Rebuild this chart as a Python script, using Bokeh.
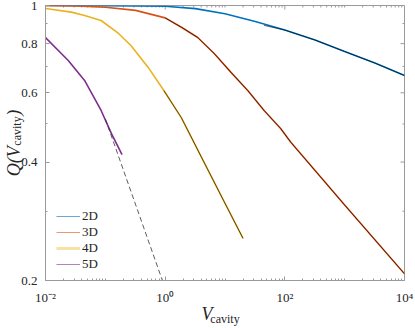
import numpy as np
from bokeh.plotting import figure
from bokeh.models import Range1d, FixedTicker, Legend, LegendItem, LogAxis
from bokeh.embed import file_html
from bokeh.resources import INLINE

# ---------------- data ----------------
names = ["2D", "3D", "4D", "5D"]
colors = ["#0072BD", "#D95319", "#EDB120", "#7E2F8E"]

v_2d = [0.01, 0.1, 1, 3.2, 10, 32, 100, 320, 1000, 3200, 10000]
q_2d = [1.0, 0.999, 0.996, 0.982, 0.953, 0.911, 0.866, 0.817, 0.764, 0.714, 0.664]

v_3d = [0.01, 0.032, 0.1, 0.32, 1, 1.9, 3.5, 6.6, 12.6, 24, 45, 85, 126, 1000, 10000]
q_3d = [1.0, 0.997, 0.99, 0.972, 0.93, 0.879, 0.829, 0.755, 0.676, 0.608, 0.541, 0.487, 0.449, 0.311, 0.208]

v_4d = [0.01, 0.027, 0.045, 0.085, 0.166, 0.27, 0.52, 0.95, 1.86, 4.3, 9.5, 20]
q_4d = [0.983, 0.962, 0.943, 0.916, 0.849, 0.79, 0.696, 0.608, 0.519, 0.404, 0.319, 0.256]

v_5d = [0.01, 0.024, 0.045, 0.085, 0.126, 0.19]
q_5d = [0.829, 0.725, 0.645, 0.541, 0.473, 0.418]

# black fitted curves
fit_v_2d = [45, 100, 320, 1000, 3200, 10000]
fit_q_2d = [0.89, 0.866, 0.817, 0.764, 0.714, 0.664]
fit_v_3d = [1, 1.9, 3.5, 6.6, 12.6, 24, 45, 85, 126, 1000, 10000]
fit_q_3d = [0.93, 0.879, 0.829, 0.755, 0.676, 0.608, 0.541, 0.487, 0.449, 0.311, 0.208]
fit_v_4d = [0.95, 1.86, 4.3, 9.5, 20]
fit_q_4d = [0.608, 0.519, 0.404, 0.319, 0.256]
fit_v_5d = [0.1, 1.0]
fit_q_5d = [0.515, 0.191]

x_major = [1e-2, 1.0, 1e2, 1e4]
x_labels = ["10\u207b\u00b2", "10\u2070", "10\u00b2", "10\u2074"]
y_major = [0.2, 0.4, 0.6, 0.8, 1.0]
y_labels = ["0.2", "0.4", "0.6", "0.8", "1"]
y_minor = [0.3, 0.5, 0.7, 0.9]

# ---------------- figure ----------------
FONT = "Liberation Serif"
TXT = "#262626"
AXC = "#9a9a9a"
X0, X1, Y0, Y1 = 1e-2, 1e4, 0.2, 1.0
FS = "\u2007"  # figure space, used to offset parts of the axis titles

p = figure(width=415, height=328, x_axis_type="log", y_axis_type="log",
           x_range=Range1d(X0, X1), y_range=Range1d(Y0, Y1),
           output_backend="svg", toolbar_location=None,
           min_border_left=44, min_border_right=11, min_border_top=5, min_border_bottom=48)
p.grid.visible = False
p.outline_line_color = AXC
p.outline_line_width = 1

x_minor = [k * 10.0 ** e for e in range(-2, 4) for k in range(1, 10)
           if k * 10.0 ** e not in x_major]
xt = FixedTicker(ticks=x_major, minor_ticks=x_minor)
yt = FixedTicker(ticks=y_major, minor_ticks=y_minor)


def style_axis(ax):
    ax.axis_line_color = AXC
    ax.axis_line_width = 1
    ax.major_tick_in = 4
    ax.major_tick_out = 0
    ax.minor_tick_in = 2
    ax.minor_tick_out = 0
    ax.major_tick_line_color = AXC
    ax.minor_tick_line_color = AXC
    ax.major_label_text_font = FONT
    ax.major_label_text_font_size = "13px"
    ax.major_label_text_color = TXT
    ax.axis_label_text_font = FONT
    ax.axis_label_text_color = TXT


xa = p.xaxis[0]
xa.ticker = xt
xa.major_label_overrides = dict(zip(x_major, x_labels))
xa.major_label_standoff = 9
style_axis(xa)
# "V" of the x title (padding shifts it left of the axis centre)
xa.axis_label = "V" + FS * 4
xa.axis_label_text_font_size = "18px"
xa.axis_label_text_font_style = "italic"
xa.axis_label_standoff = -4

ya = p.yaxis[0]
ya.ticker = yt
ya.major_label_overrides = dict(zip(y_major, y_labels))
ya.major_label_standoff = 8
style_axis(ya)
# subscript "cavity" of the y title
ya.axis_label = FS * 4 + "cavity"
ya.axis_label_text_font_size = "12px"
ya.axis_label_text_font_style = "normal"
ya.axis_label_standoff = -6

DEC = 275 / np.log10(5.0)


def dx(px):
    return 10 ** (-2 + (px - 44) / 60.0)


def dy(py):
    return 10 ** (-(py - 5) / DEC)


# mirrored ticks on the top and right edges of the box
p.segment(x0=x_major, y0=[Y1] * len(x_major), x1=x_major, y1=[dy(9)] * len(x_major),
          line_color=AXC, line_width=1)
p.segment(x0=x_minor, y0=[Y1] * len(x_minor), x1=x_minor, y1=[dy(7)] * len(x_minor),
          line_color=AXC, line_width=1)
p.segment(x0=[X1] * len(y_major), y0=y_major, x1=[dx(400)] * len(y_major), y1=y_major,
          line_color=AXC, line_width=1)
p.segment(x0=[X1] * len(y_minor), y0=y_minor, x1=[dx(402)] * len(y_minor), y1=y_minor,
          line_color=AXC, line_width=1)

# ---------------- lines ----------------
data_v = [v_2d, v_3d, v_4d, v_5d]
data_q = [q_2d, q_3d, q_4d, q_5d]
for v, q, c in zip(data_v, data_q, colors):
    p.line(v, q, line_color=c, line_width=1.6)

for v, q in [(fit_v_2d, fit_q_2d), (fit_v_3d, fit_q_3d), (fit_v_4d, fit_q_4d)]:
    p.line(v, q, line_color="black", line_width=0.6)
p.line(fit_v_5d, fit_q_5d, line_color="#333333", line_width=0.8, line_dash="5 3")

# ---------------- legend ----------------
leg_alpha = [0.6, 0.6, 0.4, 0.6]
leg_width = [1, 1, 3, 1]
items = []
for n, c, a, w in zip(names, colors, leg_alpha, leg_width):
    r = p.line([X0], [Y0], line_color=c, line_alpha=a, line_width=w)
    items.append(LegendItem(label=n, renderers=[r]))
legend = Legend(items=items, location=(11, 8), padding=0, margin=0, spacing=0,
                glyph_width=24, glyph_height=16, label_height=16, label_standoff=2,
                label_text_font=FONT, label_text_font_size="13px", label_text_color=TXT,
                border_line_alpha=0, background_fill_alpha=0)
p.add_layout(legend, "center")


# ---------------- remaining title parts: label-only axes ----------------
def title_axis(text, size, italic, standoff, bounds="auto"):
    return LogAxis(ticker=FixedTicker(ticks=[]), bounds=bounds, axis_label=text,
                   axis_label_text_font=FONT, axis_label_text_font_size=size,
                   axis_label_text_font_style="italic" if italic else "normal",
                   axis_label_text_color=TXT, axis_label_standoff=standoff,
                   axis_line_color=None, major_tick_line_color=None,
                   minor_tick_line_color=None, major_tick_out=0, minor_tick_out=0,
                   major_tick_in=0, minor_tick_in=0, major_label_standoff=0)


# subscript of the x title
p.add_layout(title_axis("cavity", "12px", False, -15, (dx(218), dx(247))), "below")
# main part of the y title, with a gap where the subscript sits
p.add_layout(title_axis("Q(V" + FS * 3 + "\u2009)", "18px", True, -16), "left")

open("out.html", "w").write(file_html(p, INLINE))
